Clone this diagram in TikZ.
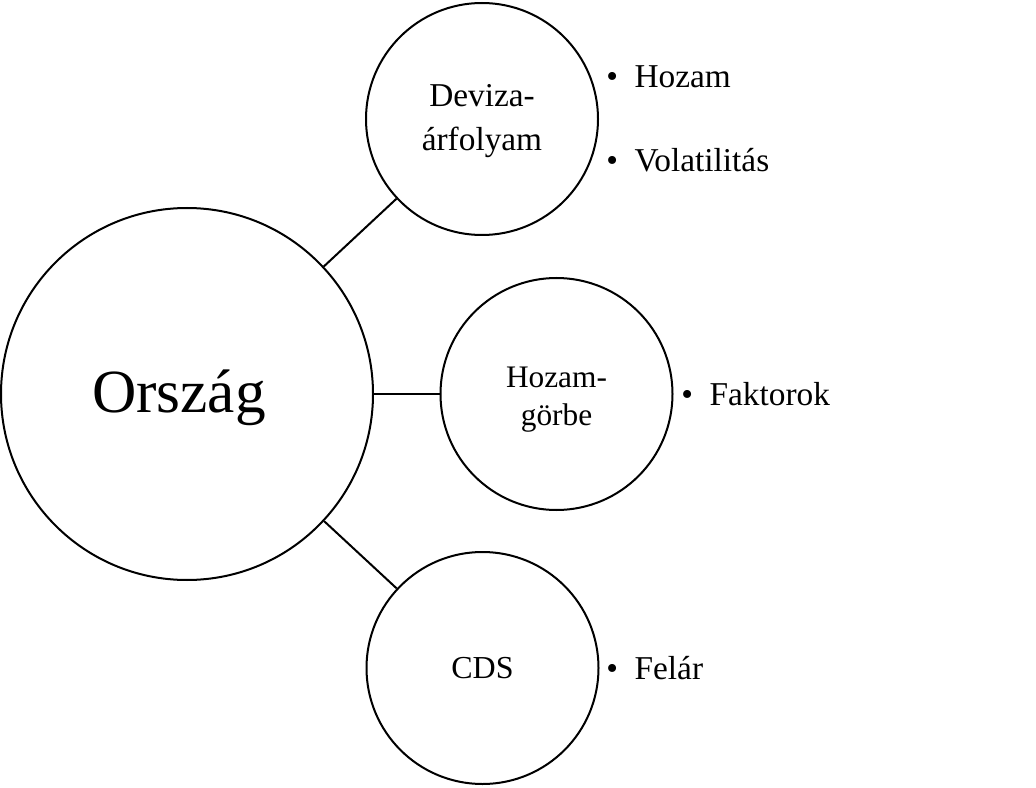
\documentclass[tikz,border=0pt]{standalone}
\usepackage{fontspec}
\setmainfont{Liberation Serif}
\usetikzlibrary{positioning}
\tikzset{
    cirbig/.style={circle,draw,line width=1.5pt,minimum size=279pt,inner sep=0pt},
    cirsml/.style={circle,draw,line width=1.5pt,minimum size=174pt,inner sep=0pt},
    cirtxt/.style={inner sep=0pt,align=center},
    bultxt/.style={anchor=base west,inner sep=0pt,font=\fontsize{25}{30}\selectfont},
    joinline/.style={line width=1.5pt}
}
\begin{document}
\begin{tikzpicture}[x=0.75pt,y=-0.75pt]
        \useasboundingbox (0,0) rectangle (1036,788);
        % central country node
        \node[cirbig] (orszag) at (187,394) {};
        \node[cirtxt,xshift=-6pt,yshift=-2.5pt,font=\fontsize{46}{52}\selectfont] (orszagtxt) at (orszag) {Ország};

        % risk factor circles
        \node[cirsml] (deviza) at (482,119) {};
        \node[cirsml] (hozamgorbe) at (556.5,394) {};
        \node[cirsml] (cds) at (482.5,668) {};
        \node[cirtxt,yshift=-1.5pt,font=\fontsize{25}{33}\selectfont] (devizatxt) at (deviza) {Deviza-\\árfolyam};
        \node[cirtxt,yshift=-4pt,font=\fontsize{23.5}{28.5}\selectfont] (hozamgorbetxt) at (hozamgorbe) {Hozam-\\görbe};
        \node[cirtxt,font=\fontsize{24}{28}\selectfont] (cdstxt) at (cds) {CDS};

        \draw[joinline] (orszag) -- (deviza);
        \draw[joinline] (orszag) -- (hozamgorbe);
        \draw[joinline] (orszag) -- (cds);

        % bullet lists
        \node[bultxt] (devhozam) at (606,88) {\textbullet\enspace Hozam};
        \node[bultxt] (devvol) at (606,172) {\textbullet\enspace Volatilitás};
        \node[bultxt] (hgfakt) at (681,405) {\textbullet\enspace Faktorok};
        \node[bultxt] (cdsfelar) at (606,679) {\textbullet\enspace Felár};
\end{tikzpicture}
\end{document}
